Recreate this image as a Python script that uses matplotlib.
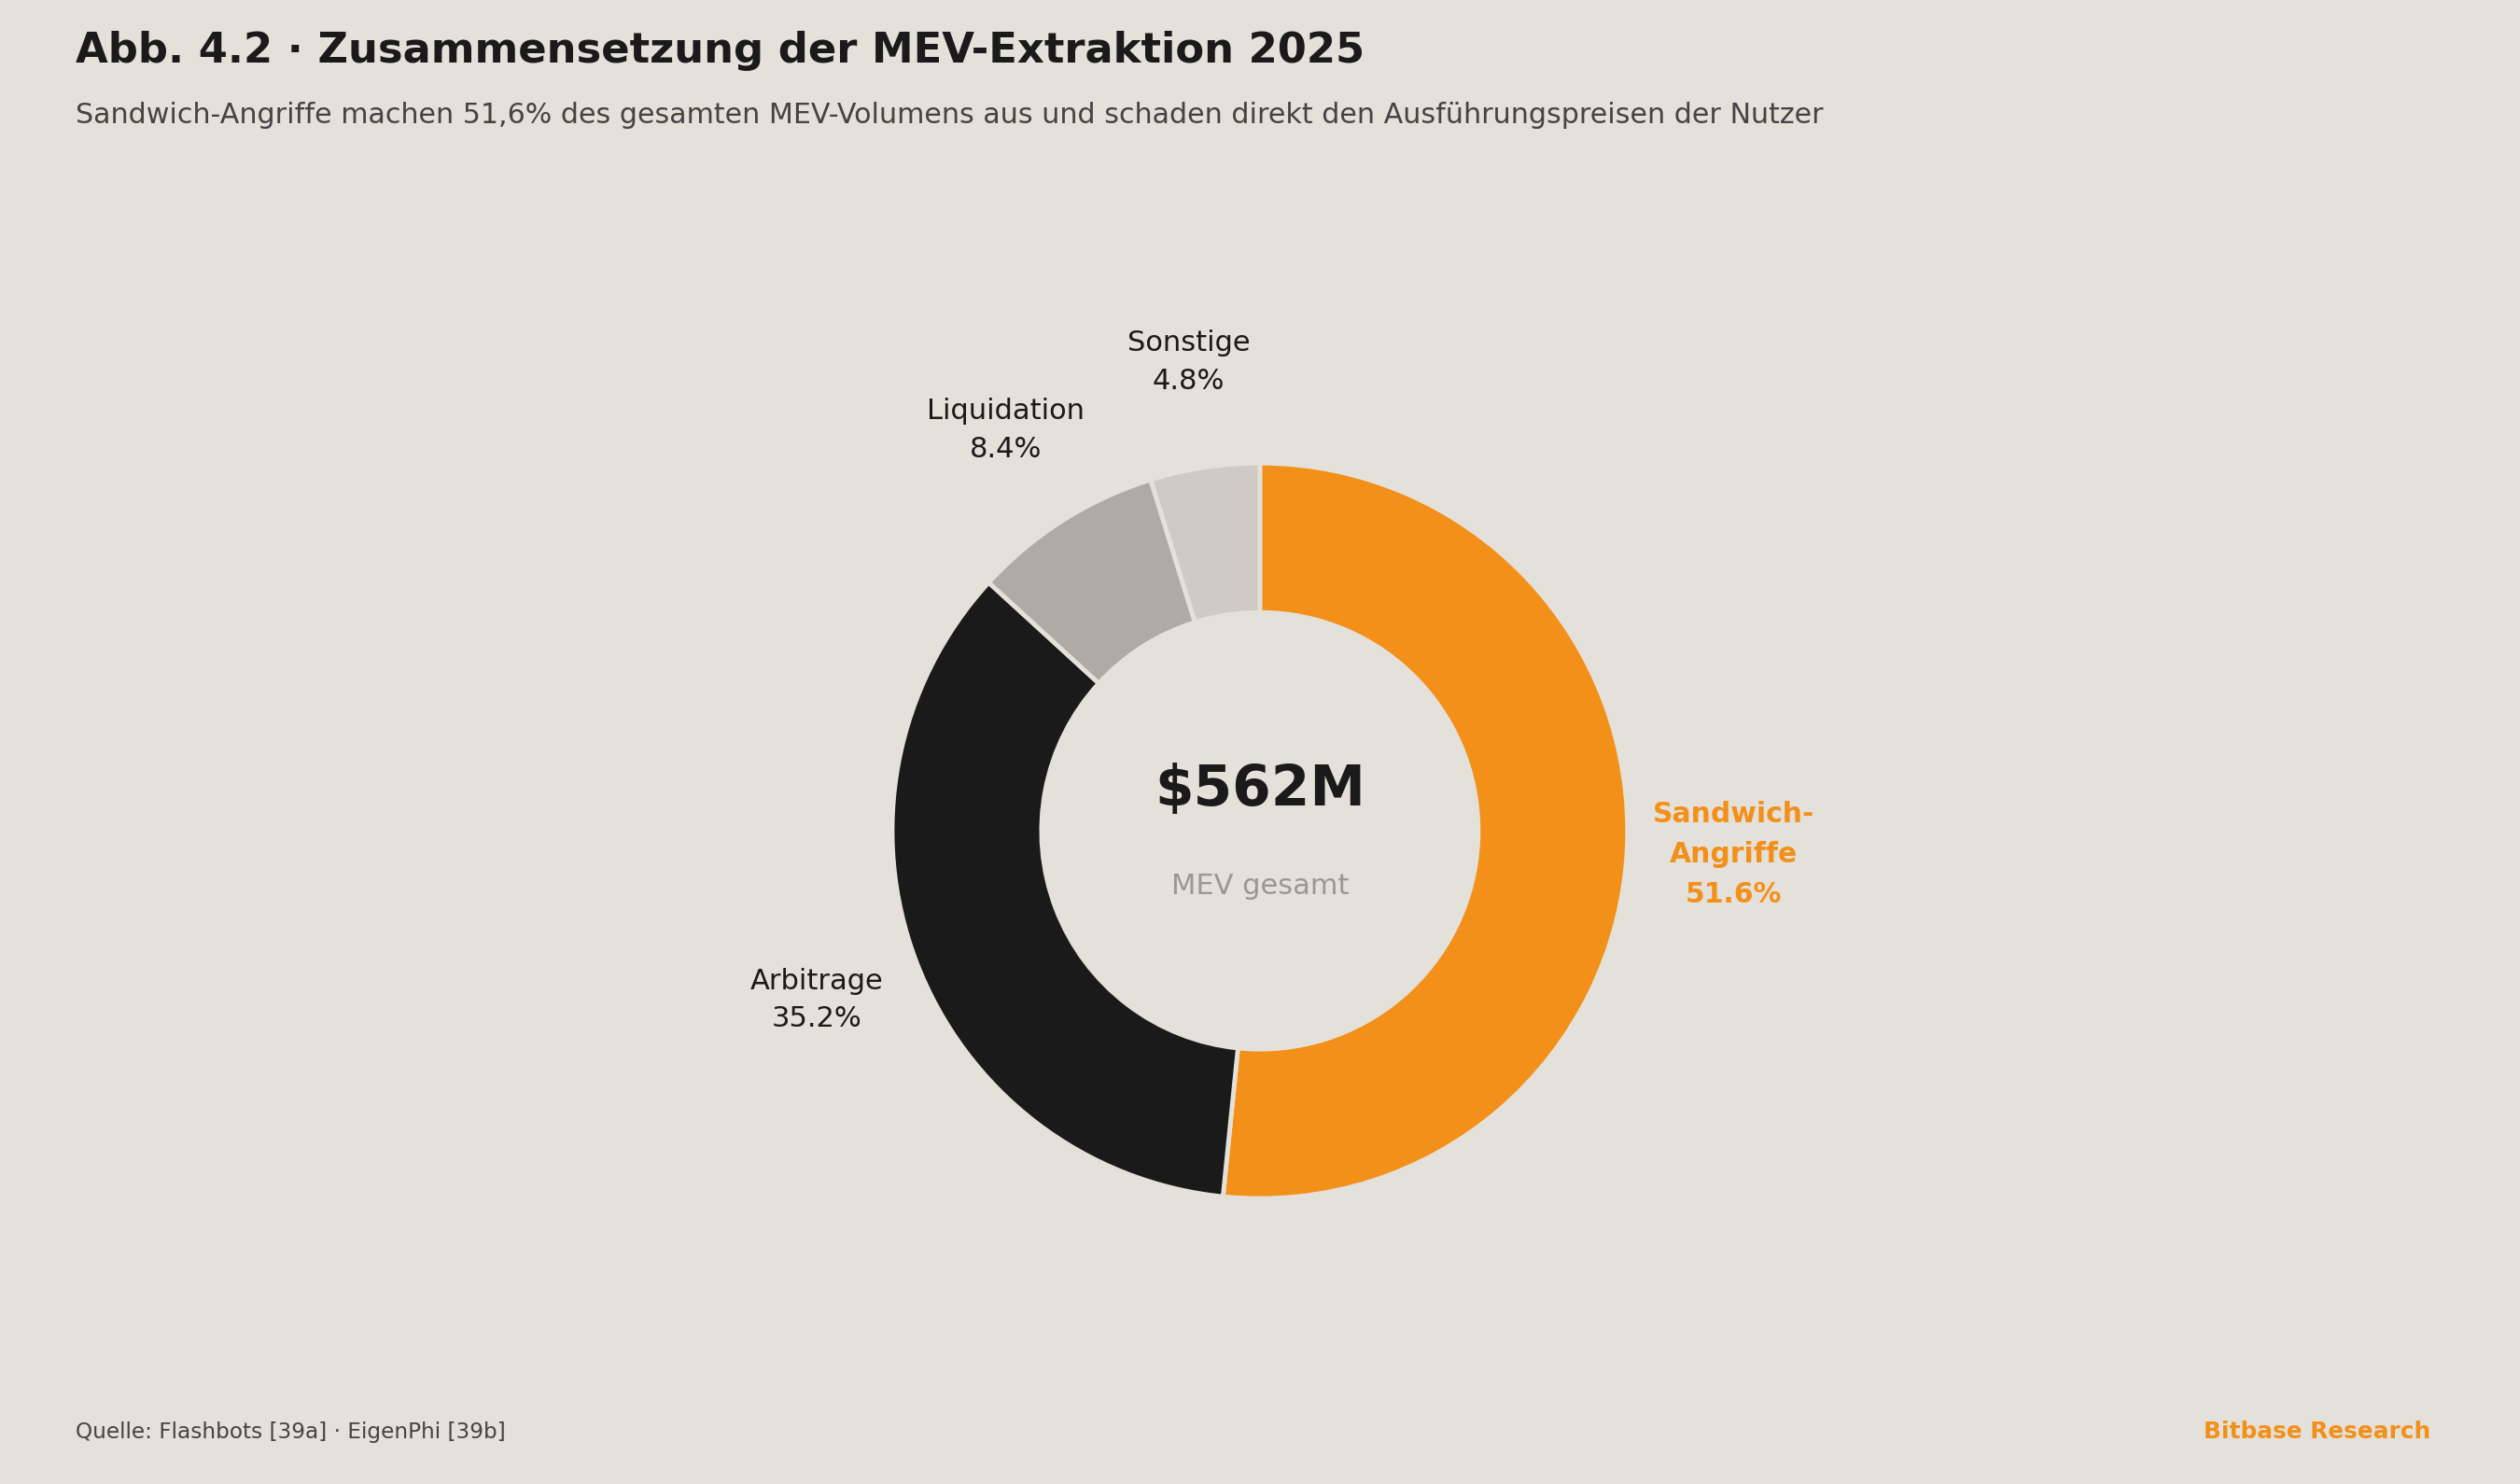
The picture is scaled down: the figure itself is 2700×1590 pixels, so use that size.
import numpy as np
import matplotlib
matplotlib.use("Agg")
import matplotlib.pyplot as plt

# Data
labels = ["Sandwich-\nAngriffe", "Arbitrage", "Liquidation", "Sonstige"]
shares = [51.6, 35.2, 8.4, 4.8]
colors = ["#F39019", "#1A1A1A", "#AFAAA4", "#CFCAC4"]
total_label = "$562M"

bg = "#E4E0DA"
orange = "#F39019"
plt.rcParams['font.family'] = ['DejaVu Sans']

fig = plt.figure(figsize=(27, 15.9), dpi=100)
fig.patch.set_facecolor(bg)

# axes placed so the donut sits at (1350, 890) px with radius ~394 px
ax = fig.add_axes([0.2957, 0.0933, 0.4085, 0.6937])
ax.set_facecolor(bg)
wedges, _ = ax.pie(shares, colors=colors, startangle=90, counterclock=False,
                   radius=1.0,
                   wedgeprops=dict(width=0.406, edgecolor=bg, linewidth=3.5))
ax.set_xlim(-1.4, 1.4)
ax.set_ylim(-1.4, 1.4)
ax.set_aspect('equal')
ax.axis('off')

# outer labels
for i, w in enumerate(wedges):
    ang = np.deg2rad((w.theta1 + w.theta2) / 2)
    x, y = 1.29 * np.cos(ang), 1.29 * np.sin(ang)
    txt = "{0}\n{1:.1f}%".format(labels[i], shares[i])
    if i == 0:
        ax.text(x, y, txt, ha='center', va='center', fontsize=21.5,
                fontweight='bold', color=orange, linespacing=1.6, clip_on=False)
    else:
        ax.text(x, y, txt, ha='center', va='center', fontsize=22,
                color="#1A1A1A", linespacing=1.5, clip_on=False)

# center text
ax.text(0, 0.11, total_label, ha='center', va='center', fontsize=43,
        fontweight='bold', color="#1A1A1A")
ax.text(0, -0.15, "MEV gesamt", ha='center', va='center', fontsize=22,
        color="#9A9795")

# titles
fig.text(81 / 2700, 1 - 55 / 1590, "Abb. 4.2 · Zusammensetzung der MEV-Extraktion 2025",
         ha='left', va='center', fontsize=32.3, fontweight='bold', color="#1A1A1A")
fig.text(81 / 2700, 1 - 124 / 1590,
         "Sandwich-Angriffe machen 51,6% des gesamten MEV-Volumens aus und schaden direkt den Ausführungspreisen der Nutzer",
         ha='left', va='center', fontsize=21.7, color="#444444")

# footer
fig.text(81 / 2700, 1 - 1534 / 1590, "Quelle: Flashbots [39a] · EigenPhi [39b]",
         ha='left', va='center', fontsize=16.7, color="#444444")
fig.text(2604 / 2700, 1 - 1534 / 1590, "Bitbase Research",
         ha='right', va='center', fontsize=17.8, fontweight='bold', color=orange)

plt.savefig('out.png', facecolor=bg)
